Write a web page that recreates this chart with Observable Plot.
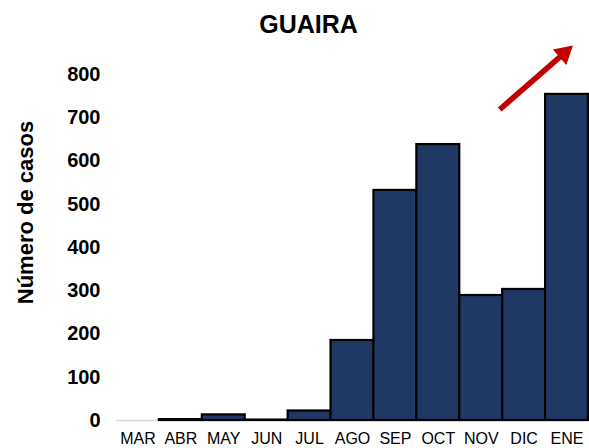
<!DOCTYPE html>
<html>
<head>
<meta charset="utf-8">
<script src="https://cdn.jsdelivr.net/npm/d3@7"></script>
<script src="https://cdn.jsdelivr.net/npm/@observablehq/plot@0.6"></script>
<style>
  html, body { margin: 0; padding: 0; background: #fff; }
  #wrap { position: relative; width: 589px; height: 448px; overflow: hidden; font-family: "Liberation Sans", Arial, sans-serif; }
  #title { position: absolute; left: 14px; width: 589px; top: 12px; text-align: center; font-size: 25px; line-height: 25px; font-weight: bold; color: #000; }
  #chart { position: absolute; left: 0; top: 40px; }
</style>
</head>
<body>
<div id="wrap">
  <div id="title">GUAIRA</div>
  <div id="chart"></div>
</div>
<script>
const months = ["MAR","ABR","MAY","JUN","JUL","AGO","SEP","OCT","NOV","DIC","ENE"];
const cases  = [0, 2, 13, 1, 22, 185, 532, 638, 289, 303, 754];
const yTicks = [0, 100, 200, 300, 400, 500, 600, 700, 800];
const yLabel = "Número de casos";
// trend arrow annotation (x in month index units, y in cases)
const arrowFrom = {x: 8.43, y: 719};
const arrowTo   = {x: 9.93, y: 849};

const data = months.map((m, i) => ({i, m, v: cases[i]}));
const angle = Math.atan2(-(arrowTo.y - arrowFrom.y) * 0.4325, (arrowTo.x - arrowFrom.x) * 42.9) * 180 / Math.PI;

const chart = Plot.plot({
  width: 589,
  height: 408,
  marginLeft: 116,
  marginRight: 1,
  marginTop: 34,
  marginBottom: 28,
  x: {domain: [-0.5, 10.5], axis: null},
  y: {domain: [0, 800], axis: null},
  style: {fontFamily: "'Liberation Sans', Arial, sans-serif", background: "transparent", overflow: "visible"},
  marks: [
    Plot.ruleY([0], {stroke: "#d9d9d9", strokeWidth: 1.5}),
    Plot.rectY(data.filter(d => d.v > 0), {x1: d => d.i - 0.5, x2: d => d.i + 0.5, y: "v", fill: "#203864", stroke: "#000", strokeWidth: 2.2}),
    Plot.text(yTicks, {y: d => d, text: d => String(d), frameAnchor: "left", textAnchor: "end", dx: -16, fontSize: 20, fontWeight: "bold", fill: "#000"}),
    Plot.text(data, {x: "i", text: "m", frameAnchor: "bottom", lineAnchor: "top", dy: 12, fontSize: 16, fill: "#000", letterSpacing: "-0.6px"}),
    Plot.text([yLabel], {text: d => d, frameAnchor: "left", textAnchor: "middle", rotate: -90, dx: -91, dy: -35, fontSize: 22, fontWeight: "bold", fill: "#000", letterSpacing: "2px"}),
    Plot.link([{a: arrowFrom, b: arrowTo}], {x1: d => d.a.x, y1: d => d.a.y, x2: d => d.b.x, y2: d => d.b.y, stroke: "#c00000", strokeWidth: 5.5}),
    Plot.dot([arrowTo], {x: "x", y: "y", symbol: "triangle", r: 7.6, fill: "#c00000", stroke: "none", rotate: 90 + angle})
  ]
});
document.getElementById("chart").appendChild(chart);
</script>
</body>
</html>
